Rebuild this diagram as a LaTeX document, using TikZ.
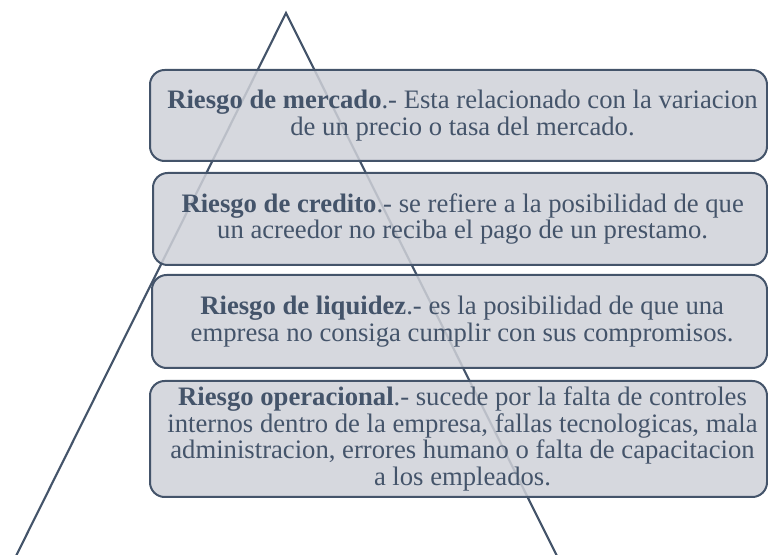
\documentclass[tikz,border=0pt]{standalone}
\usepackage{fontspec}
\setmainfont{Liberation Serif}
\definecolor{dk}{RGB}{68,84,106}
\definecolor{bx}{RGB}{207,209,216}
\begin{document}
\begin{tikzpicture}[x=0.75pt,y=-0.75pt,
  riskbox/.style={draw=dk, line width=1.5pt, fill=bx, fill opacity=0.85, draw opacity=1,
    rounded corners=11pt, inner sep=0pt},
  risktext/.style={text=dk, align=center, inner sep=0pt,
    font=\fontsize{20pt}{19.8pt}\selectfont},
  tri/.style={draw=dk, line width=1.6pt, line join=miter}]
\useasboundingbox (0,0) rectangle (768,555);
\coordinate (apex) at (286,13);
\coordinate (bl) at (16,556);
\coordinate (br) at (557,556);
\draw[tri] (bl) -- (apex) -- (br);
\node[riskbox, minimum width=462.75pt, minimum height=68.25pt] (b1) at (458.5,115.5) {};
\node[riskbox, minimum width=460.5pt, minimum height=69pt] (b2) at (460,219) {};
\node[riskbox, minimum width=461.25pt, minimum height=69.75pt] (b3) at (459.5,321.5) {};
\node[riskbox, minimum width=462.75pt, minimum height=87pt] (b4) at (458.5,439) {};
\node[risktext] (t1) at ([xshift=3pt]b1.center)
  {\textbf{Riesgo de mercado}.- Esta relacionado con la variacion\\de un precio o tasa del mercado.};
\node[risktext] (t2) at ([xshift=2pt]b2.center)
  {\textbf{Riesgo de credito}.- se refiere a la posibilidad de que\\un acreedor no reciba el pago de un prestamo.};
\node[risktext] (t3) at ([xshift=2pt]b3.center)
  {\textbf{Riesgo de liquidez}.- es la posibilidad de que una\\empresa no consiga cumplir con sus compromisos.};
\node[risktext] (t4) at ([xshift=3pt]b4.center)
  {\textbf{Riesgo operacional}.- sucede por la falta de controles\\internos dentro de la empresa, fallas tecnologicas, mala\\administracion, errores humano o falta de capacitacion\\a los empleados.};
\end{tikzpicture}
\end{document}
